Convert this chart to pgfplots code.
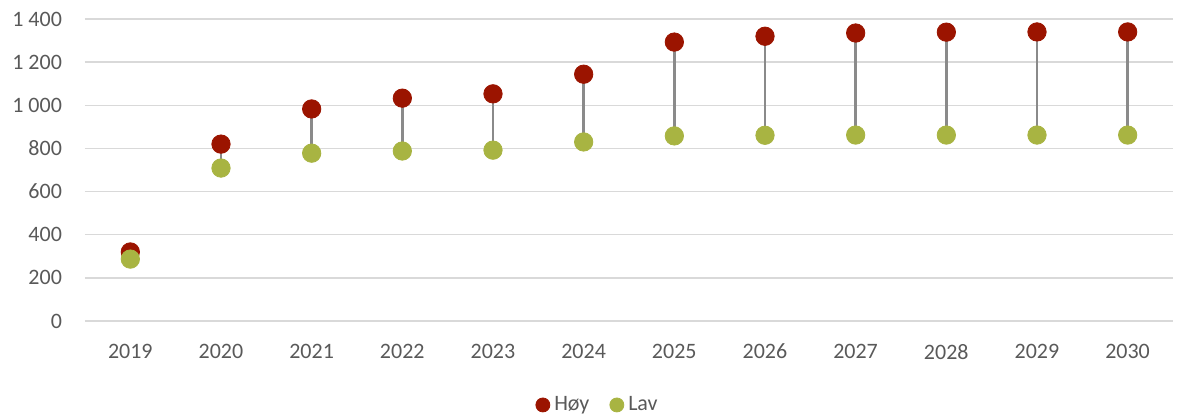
\documentclass[border=0pt]{standalone}
\usepackage{pgfplots}
\pgfplotsset{compat=1.18}
\usepackage{pgfplotstable}
\usepackage{fontspec}
\setmainfont{Carlito}
\definecolor{hoy}{HTML}{9B1400}
\definecolor{lav}{HTML}{A8B442}
\definecolor{gridc}{HTML}{D9D9D9}
\definecolor{txt}{HTML}{595959}
\definecolor{stem}{HTML}{8A8A8A}

\pgfplotstableread{
year low high
2019 287 320
2020 709 820
2021 778 983
2022 788 1033
2023 792 1053
2024 830 1144
2025 858 1293
2026 861 1320
2027 862 1335
2028 862 1339
2029 862 1340
2030 862 1340
}\dumbbell

\begin{document}
\begin{tikzpicture}
\useasboundingbox (-42.5pt,-47.5pt) rectangle (546.5pt,160.5pt);
\begin{axis}[
  at={(0,0)}, anchor=south west,
  scale only axis,
  width=544pt, height=151pt,
  xmin=2018.5, xmax=2030.5,
  ymin=0, ymax=1400,
  xtick={2019,...,2030},
  ytick={0,200,...,1400},
  axis line style={draw=none},
  major tick length=0pt,
  ymajorgrids,
  grid style={gridc, line width=0.7pt},
  tick label style={font=\fontsize{11}{13}\selectfont, text=txt},
  xticklabel style={yshift=-8pt, /pgf/number format/1000 sep={}},
  yticklabel style={xshift=-8pt, /pgf/number format/1000 sep={\ }},
  /pgf/number format/assume math mode=true,
  legend style={at={(0.472,-0.278)}, anchor=center, draw=none, fill=none,
    legend columns=2, font=\fontsize{11}{13}\selectfont, text=txt,
    /tikz/every even column/.append style={column sep=8pt}},
  legend image code/.code={\fill[#1] (0pt,0pt) circle (3.5pt);},
]
\addplot[draw=none, mark=none, forget plot,
  error bars/.cd, y dir=plus, y explicit, error mark=none,
  error bar style={stem, line width=1.2pt}]
  table[x=year, y=low, y error expr=\thisrow{high}-\thisrow{low}] {\dumbbell};
\addplot[only marks, mark=*, mark size=4.6pt, hoy, mark options={draw=hoy, fill=hoy}]
  table[x=year, y=high] {\dumbbell};
\addlegendentry{Høy}
\addplot[only marks, mark=*, mark size=4.6pt, lav, mark options={draw=lav, fill=lav}]
  table[x=year, y=low] {\dumbbell};
\addlegendentry{Lav}
\end{axis}
\end{tikzpicture}
\end{document}
